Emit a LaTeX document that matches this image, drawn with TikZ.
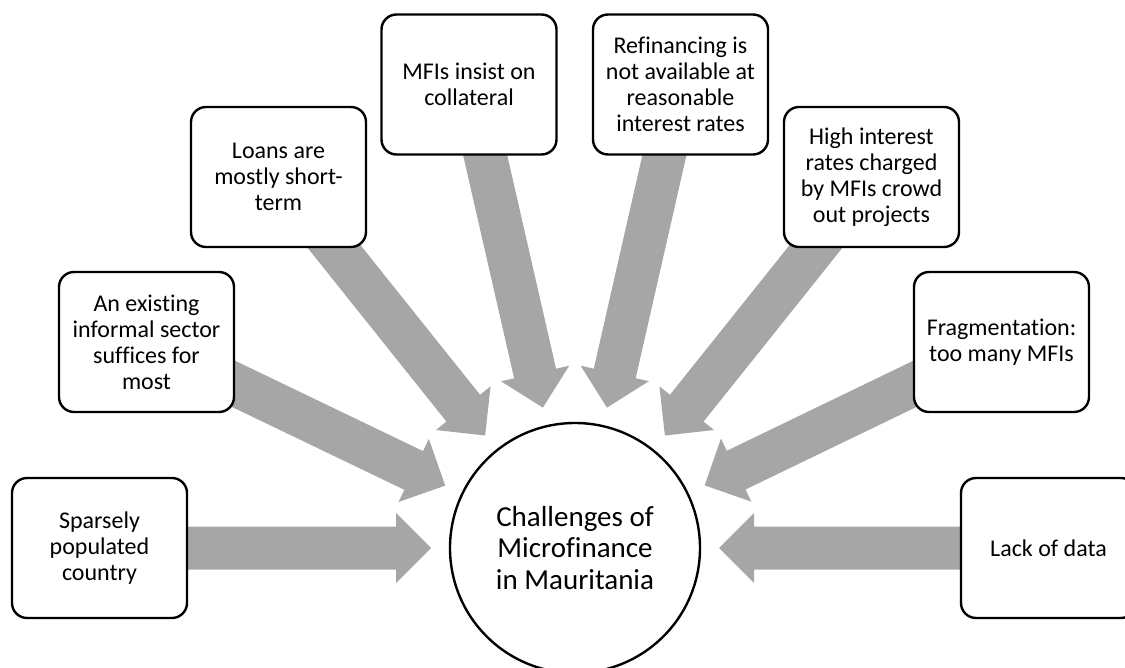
\documentclass[tikz,border=0pt]{standalone}
\usepackage{fontspec}
\setmainfont{Carlito}[Ligatures=NoCommon]
\usetikzlibrary{calc}
\pgfdeclarelayer{background}
\pgfsetlayers{background,main}
\definecolor{arrowgray}{HTML}{A6A6A6}
\tikzset{
  box/.style={draw=black, line width=2.4pt, fill=white, rounded corners=15pt,
    minimum width=175pt, minimum height=140pt, inner sep=0pt, align=center,
    font=\fontsize{24pt}{26pt}\selectfont},
  hub/.style={circle, draw=black, line width=2.4pt, fill=white, minimum size=250pt,
    inner sep=0pt, align=center, font=\fontsize{29pt}{31.5pt}\selectfont},
  blockarrow/.style={fill=arrowgray}
}
\newcommand\blockarr[2]{%
  \coordinate (hb) at ($(#2.center)!179pt!(#1.center)$);
  \coordinate (tp) at ($(#2.center)!144pt!(#1.center)$);
  \fill[blockarrow] ($(#1.center)!21.5pt!90:(#2.center)$)
    -- ($(hb)!21.5pt!90:(#2.center)$)
    -- ($(hb)!35pt!90:(#2.center)$)
    -- (tp)
    -- ($(hb)!35pt!-90:(#2.center)$)
    -- ($(hb)!21.5pt!-90:(#2.center)$)
    -- ($(#1.center)!21.5pt!-90:(#2.center)$) -- cycle;
}
\begin{document}
\begin{tikzpicture}[x=1pt,y=-1pt]
  \clip (0,0) rectangle (1125,668);
  \node[hub] (hub) at (575,548) {Challenges of\\Microfinance\\in Mauritania};
  \node[box] (b1) at (99.5,548) {Sparsely\\populated\\country};
  \node[box] (b2) at (146.5,342) {An existing\\informal sector\\suffices for\\most};
  \node[box] (b3) at (278.5,177) {Loans are\\mostly short-\\term};
  \node[box] (b4) at (469,84.5) {MFIs insist on\\collateral};
  \node[box] (b5) at (680.5,84.5) {Refinancing is\\not available at\\reasonable\\interest rates};
  \node[box] (b6) at (871.5,177) {High interest\\rates charged\\by MFIs crowd\\out projects};
  \node[box] (b7) at (1001.5,342) {Fragmentat\kern0pt ion:\\too many MFIs};
  \node[box] (b8) at (1048.5,548) {Lack of data};
  \begin{pgfonlayer}{background}
    \blockarr{b1}{hub}
    \blockarr{b2}{hub}
    \blockarr{b3}{hub}
    \blockarr{b4}{hub}
    \blockarr{b5}{hub}
    \blockarr{b6}{hub}
    \blockarr{b7}{hub}
    \blockarr{b8}{hub}
  \end{pgfonlayer}
\end{tikzpicture}
\end{document}
